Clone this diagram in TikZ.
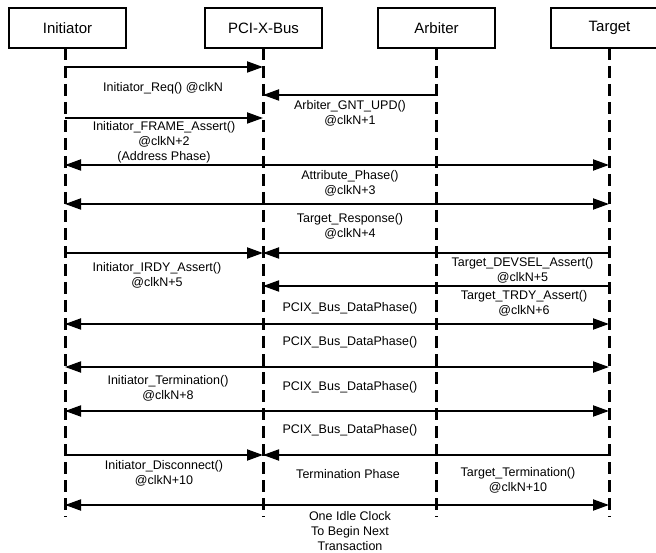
\documentclass[tikz,border=0pt]{standalone}
\usepackage{fontspec}
\setmainfont{Liberation Sans}
\usetikzlibrary{arrows.meta}
\begin{document}
\begin{tikzpicture}[x=1pt,y=-1pt,
  actor/.style={draw, line width=1.3pt, minimum width=117pt, minimum height=40pt,
    inner sep=0pt, font=\fontsize{15}{18}\selectfont},
  life/.style={line width=3pt, dash pattern=on 12pt off 6pt},
  tipx/.tip={Triangle[length=16pt,width=11pt]},
  msg/.style={line width=1.9pt, -tipx},
  both/.style={line width=1.9pt, tipx-tipx},
  lbl/.style={font=\fontsize{12.5}{15}\selectfont, align=center, inner sep=0pt}]
\clip (0,0) rectangle (656,553);
\useasboundingbox (0,0) rectangle (656,553);
% actors
\node[actor] (ini) at (67.5,28) {Initiator};
\node[actor] (bus) at (263.5,28) {PCI-X-Bus};
\node[actor] (arb) at (436.5,28) {Arbiter};
\node[actor] (tgt) at (609.5,28) {Target};
% lifeline tops
\coordinate (Li) at (65,48);
\coordinate (Lb) at (263,48);
\coordinate (La) at (436.5,48);
\coordinate (Lt) at (609,48);
\coordinate (end) at (0,517);
\draw[life] (Li) -- (Li |- end);
\draw[life] (Lb) -- (Lb |- end);
\draw[life] (La) -- (La |- end);
\draw[life] (Lt) -- (Lt |- end);
% messages
\draw[msg] (Li |- 0,67) -- (Lb |- 0,67);
\node[lbl] (t1) at (163,88) {Initiator\_Req() @clkN};
\draw[msg] (La |- 0,95) -- (Lb |- 0,95);
\node[lbl] (t2) at (350,113) {Arbiter\_GNT\_UPD()\\@clkN+1};
\draw[msg] (Li |- 0,118) -- (Lb |- 0,118);
\node[lbl] (t3) at (164,142) {Initiator\_FRAME\_Assert()\\@clkN+2\\(Address Phase)};
\draw[both] (Li |- 0,165) -- (Lt |- 0,165);
\node[lbl] (t4) at (350,183.5) {Attribute\_Phase()\\@clkN+3};
\draw[both] (Li |- 0,204) -- (Lt |- 0,204);
\node[lbl] (t5) at (350,226.5) {Target\_Response()\\@clkN+4};
\draw[msg] (Li |- 0,253) -- (Lb |- 0,253);
\draw[msg] (Lt |- 0,253) -- (Lb |- 0,253);
\node[lbl] (t6) at (157,275.5) {Initiator\_IRDY\_Assert()\\@clkN+5};
\node[lbl] (t7) at (522.5,270.5) {Target\_DEVSEL\_Assert()\\@clkN+5};
\draw[msg] (Lt |- 0,286) -- (Lb |- 0,286);
\node[lbl] (t8) at (524,303.5) {Target\_TRDY\_Assert()\\@clkN+6};
\node[lbl] (t9) at (350,308) {PCIX\_Bus\_DataPhase()};
\draw[both] (Li |- 0,324) -- (Lt |- 0,324);
\node[lbl] (t10) at (350,342) {PCIX\_Bus\_DataPhase()};
\draw[both] (Li |- 0,367) -- (Lt |- 0,367);
\node[lbl] (t11) at (168,388.5) {Initiator\_Termination()\\@clkN+8};
\node[lbl] (t12) at (350,387) {PCIX\_Bus\_DataPhase()};
\draw[both] (Li |- 0,411) -- (Lt |- 0,411);
\node[lbl] (t13) at (350,430) {PCIX\_Bus\_DataPhase()};
\draw[msg] (Li |- 0,455) -- (Lb |- 0,455);
\draw[msg] (Lt |- 0,455) -- (Lb |- 0,455);
\node[lbl] (t14) at (164,473) {Initiator\_Disconnect()\\@clkN+10};
\node[lbl] (t15) at (348,474) {Termination Phase};
\node[lbl] (t16) at (518,480) {Target\_Termination()\\@clkN+10};
\draw[both] (Li |- 0,505) -- (Lt |- 0,505);
\node[lbl] (t17) at (350,531) {One Idle Clock\\To Begin Next\\Transaction};
\end{tikzpicture}
\end{document}
